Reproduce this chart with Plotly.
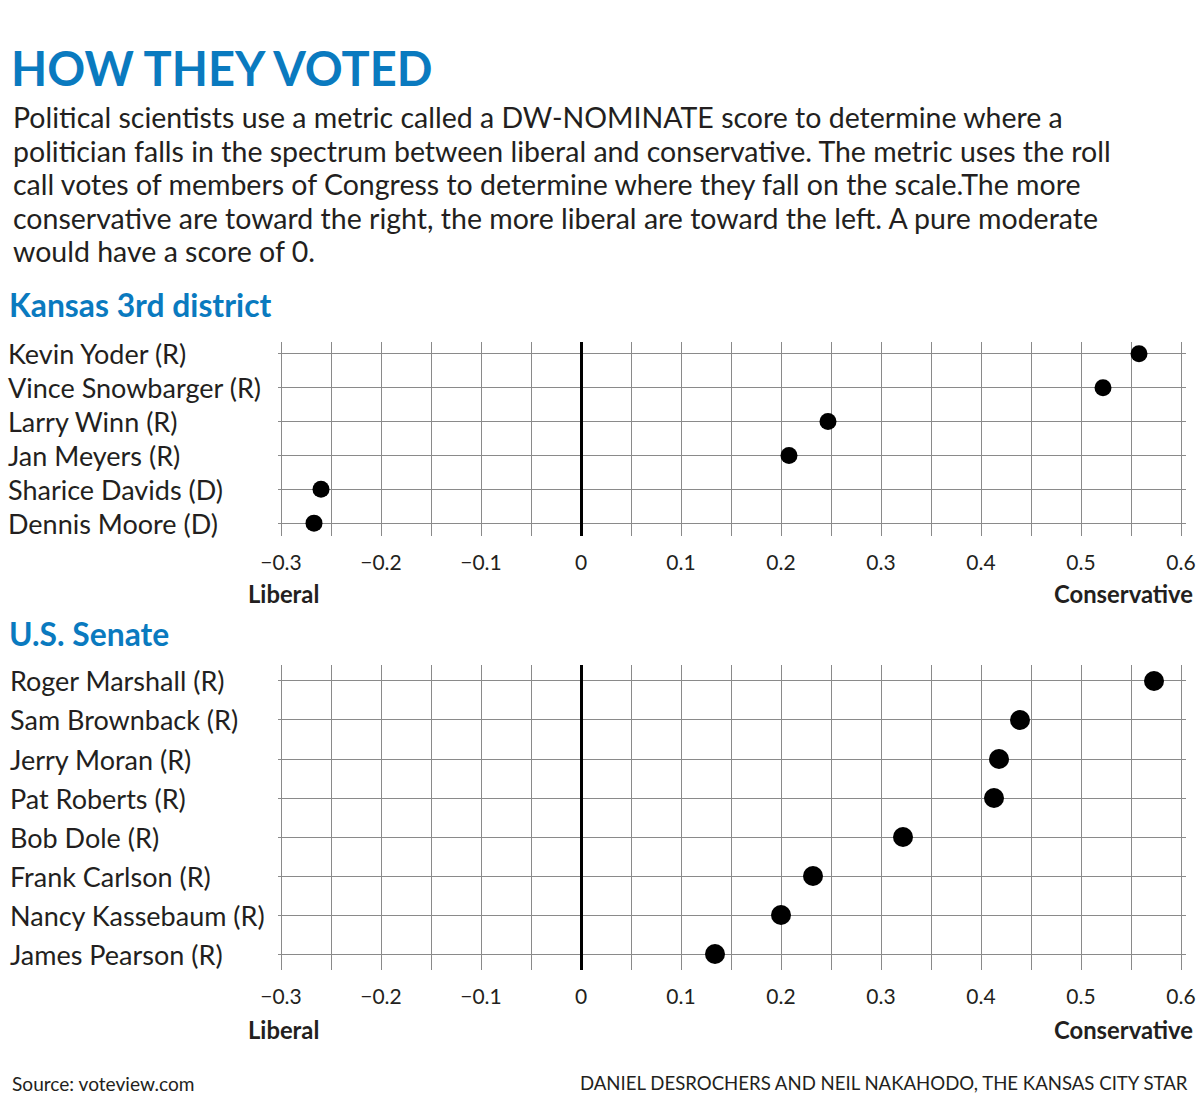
import plotly.graph_objects as go

# data
house_names = ["Kevin Yoder (R)", "Vince Snowbarger (R)", "Larry Winn (R)",
               "Jan Meyers (R)", "Sharice Davids (D)", "Dennis Moore (D)"]
house_scores = [0.558, 0.522, 0.247, 0.208, -0.260, -0.267]

senate_names = ["Roger Marshall (R)", "Sam Brownback (R)", "Jerry Moran (R)",
                "Pat Roberts (R)", "Bob Dole (R)", "Frank Carlson (R)",
                "Nancy Kassebaum (R)", "James Pearson (R)"]
senate_scores = [0.573, 0.439, 0.418, 0.413, 0.322, 0.232, 0.200, 0.134]

tick_vals = [-0.3, -0.2, -0.1, 0, 0.1, 0.2, 0.3, 0.4, 0.5, 0.6]
tick_text = ["\u22120.3", "\u22120.2", "\u22120.1", "0", "0.1", "0.2", "0.3", "0.4", "0.5", "0.6"]

intro_lines = [
    "Political scientists use a metric called a DW-NOMINATE score to determine where a",
    "politician falls in the spectrum between liberal and conservative. The metric uses the roll",
    "call votes of members of Congress to determine where they fall on the scale.The more",
    "conservative are toward the right, the more liberal are toward the left. A pure moderate",
    "would have a score of 0.",
]

W, H = 1200, 1108
BLUE = "#0a7abf"
INK = "#231f20"
GRID = "#8a8a8a"
FONT = "Lato"


def py(px):
    # pixel row from top -> paper y
    return 1 - px / H


fig = go.Figure()
fig.add_trace(go.Scatter(x=house_scores, y=house_names, mode="markers",
                         marker=dict(size=17, color="black"),
                         xaxis="x", yaxis="y", hoverinfo="x+y"))
fig.add_trace(go.Scatter(x=senate_scores, y=senate_names, mode="markers",
                         marker=dict(size=20, color="black"),
                         xaxis="x2", yaxis="y2", hoverinfo="x+y"))

xax = dict(range=[-0.303, 0.605], domain=[278 / W, 1186 / W],
           tickvals=tick_vals, ticktext=tick_text, ticks="",
           showgrid=True, gridcolor=GRID, gridwidth=1.3,
           minor=dict(dtick=0.05, tick0=-0.3, showgrid=True, gridcolor=GRID, gridwidth=1.3),
           zeroline=True, zerolinecolor="black", zerolinewidth=2.5,
           showline=False, tickfont=dict(family=FONT, size=21, color=INK),
           ticklabelstandoff=12, automargin=False, fixedrange=True)

fig.update_layout(
    width=W, height=H, margin=dict(l=0, r=0, t=0, b=0, autoexpand=False),
    paper_bgcolor="white", plot_bgcolor="white", showlegend=False,
    xaxis=dict(xax, anchor="y"),
    xaxis2=dict(xax, anchor="y2"),
    yaxis=dict(domain=[py(536), py(342)], anchor="x",
               categoryorder="array", categoryarray=house_names,
               range=[len(house_names) - 1 + 0.38, -0.35],
               showgrid=True, gridcolor=GRID, gridwidth=1.3, automargin=False,
               showticklabels=False, zeroline=False, fixedrange=True),
    yaxis2=dict(domain=[py(970), py(665)], anchor="x2",
                categoryorder="array", categoryarray=senate_names,
                range=[len(senate_names) - 1 + 0.41, -0.41],
                showgrid=True, gridcolor=GRID, gridwidth=1.3, automargin=False,
                showticklabels=False, zeroline=False, fixedrange=True),
)

ann = []
# left-aligned row names, placed by the category axis
for n in house_names:
    ann.append(dict(x=6 / W, xref="paper", y=n, yref="y", text=n, showarrow=False,
                    xanchor="left", yanchor="middle",
                    font=dict(family=FONT, size=27, color=INK)))
for n in senate_names:
    ann.append(dict(x=8 / W, xref="paper", y=n, yref="y2", text=n, showarrow=False,
                    xanchor="left", yanchor="middle",
                    font=dict(family=FONT, size=27, color=INK)))

# end labels under the axes
for yy in (594, 1030):
    ann.append(dict(x=246 / W, y=py(yy), xref="paper", yref="paper", text="<b>Liberal</b>",
                    showarrow=False, xanchor="left", yanchor="middle",
                    font=dict(family=FONT, size=23.8, color=INK)))
    ann.append(dict(x=1195 / W, y=py(yy), xref="paper", yref="paper", text="<b>Conservative</b>",
                    showarrow=False, xanchor="right", yanchor="middle",
                    font=dict(family=FONT, size=23.8, color=INK)))

# headings and text
ann.append(dict(x=9 / W, y=py(68), xref="paper", yref="paper", text="<b>HOW THEY VOTED</b>",
                showarrow=False, xanchor="left", yanchor="middle",
                font=dict(family=FONT, size=47, color=BLUE)))
for i, line in enumerate(intro_lines):
    ann.append(dict(x=11 / W, y=py(117 + i * 33.6), xref="paper", yref="paper", text=line,
                    showarrow=False, xanchor="left", yanchor="middle",
                    font=dict(family=FONT, size=28.5, color=INK)))
ann.append(dict(x=7 / W, y=py(305), xref="paper", yref="paper", text="<b>Kansas 3rd district</b>",
                showarrow=False, xanchor="left", yanchor="middle",
                font=dict(family=FONT, size=31.8, color=BLUE)))
ann.append(dict(x=7 / W, y=py(634), xref="paper", yref="paper", text="<b>U.S. Senate</b>",
                showarrow=False, xanchor="left", yanchor="middle",
                font=dict(family=FONT, size=31.8, color=BLUE)))
ann.append(dict(x=10 / W, y=py(1083), xref="paper", yref="paper", text="Source: voteview.com",
                showarrow=False, xanchor="left", yanchor="middle",
                font=dict(family=FONT, size=19.1, color=INK)))
ann.append(dict(x=1190 / W, y=py(1083), xref="paper", yref="paper",
                text="DANIEL DESROCHERS AND NEIL NAKAHODO, THE KANSAS CITY STAR",
                showarrow=False, xanchor="right", yanchor="middle",
                font=dict(family=FONT, size=18.6, color=INK)))

fig.update_layout(annotations=ann)
fig.write_html("out.html", config={"displayModeBar": False},
               post_script="document.body.style.margin='0';")
